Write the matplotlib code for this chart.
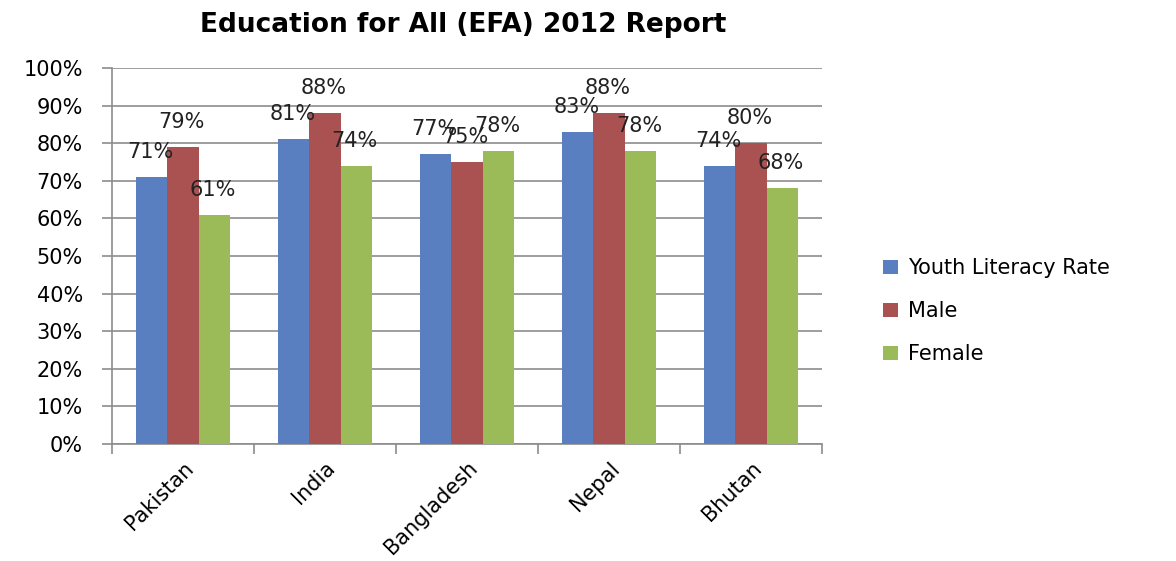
import matplotlib.pyplot as plt
import numpy as np

countries = ["Pakistan", "India", "Bangladesh", "Nepal", "Bhutan"]
series_names = ["Youth Literacy Rate", "Male", "Female"]
youth = [71, 81, 77, 83, 74]
male = [79, 88, 75, 88, 80]
female = [61, 74, 78, 78, 68]

colors = ["#5A7FC1", "#AA5151", "#9BBB59"]
grid_col = "#8c8c8c"

fig = plt.figure(figsize=(11.76, 5.61), dpi=100)
ax = fig.add_axes([0.0952, 0.2086, 0.6038, 0.6702])

x = np.arange(len(countries))
width = 0.22

for k, (vals, name) in enumerate(zip([youth, male, female], series_names)):
    pos = x + (k - 1) * width
    ax.bar(pos, vals, width, color=colors[k], label=name, zorder=3)
    for xi, v in zip(pos, vals):
        ax.annotate(f"{v}%", xy=(xi, v), xytext=(-1, 18),
                    textcoords="offset points", ha="center", va="center",
                    fontsize=15, color="#222222", zorder=4)

ax.set_xlim(-0.5, len(countries) - 0.5)
ax.set_ylim(0, 100)
ax.set_yticks(np.arange(0, 101, 10))
ax.set_yticklabels([f"{t}%" for t in range(0, 101, 10)], fontsize=15)
ax.yaxis.grid(True, color=grid_col, linewidth=1.2, zorder=0)
ax.tick_params(axis="y", length=7, color=grid_col, width=1.2, pad=14)

# category boundaries get the tick marks, labels sit at centers
ax.set_xticks(np.arange(-0.5, len(countries), 1.0))
ax.set_xticklabels([])
ax.set_xticks(x, minor=True)
ax.set_xticklabels(countries, minor=True, rotation=45, ha="right",
                   rotation_mode="anchor", fontsize=15)
ax.tick_params(axis="x", which="minor", length=0, pad=10)
ax.tick_params(axis="x", which="major", length=7, color=grid_col, width=1.2)

for side in ["top", "right"]:
    ax.spines[side].set_visible(False)
for side in ["left", "bottom"]:
    ax.spines[side].set_color(grid_col)
    ax.spines[side].set_linewidth(1.2)

fig.text(0.394, 0.955, "Education for All (EFA) 2012 Report", ha="center",
         va="center", fontsize=19, fontweight="bold")

fig.legend(loc="center left", bbox_to_anchor=(0.735, 0.445), frameon=False,
           fontsize=15, handlelength=0.7, handleheight=0.7, labelspacing=1.1,
           handletextpad=0.5)

fig.savefig("out.png", dpi=100)
